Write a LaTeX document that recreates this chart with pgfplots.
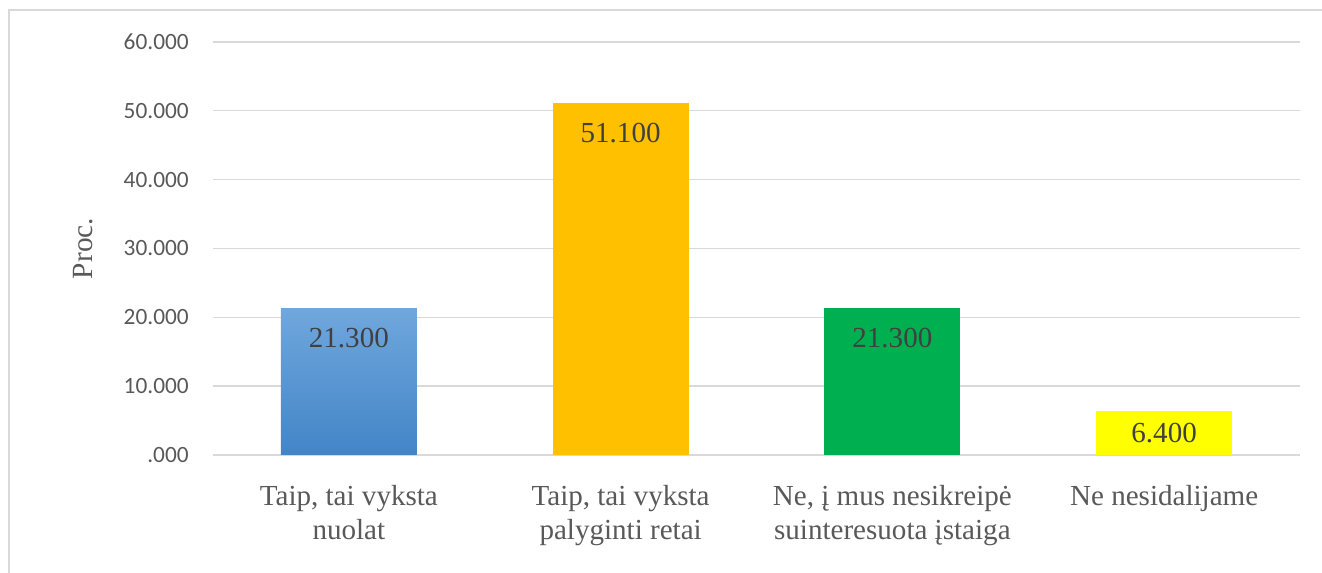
\documentclass[border=0pt]{standalone}
\usepackage{pgfplots}
\pgfplotsset{compat=1.18}
\usepackage{fontspec}
\setmainfont{Liberation Serif}
\newfontfamily\carlito{Carlito}
\definecolor{gridgray}{HTML}{D9D9D9}
\definecolor{ticktext}{HTML}{595959}
\definecolor{valtext}{HTML}{404040}
\definecolor{bluetop}{HTML}{70A7DD}
\definecolor{bluebot}{HTML}{4285C7}
\definecolor{orangebar}{HTML}{FFC000}
\definecolor{greenbar}{HTML}{00B050}
\definecolor{yellowbar}{HTML}{FFFF00}
\pgfplotsset{/pgf/number format/assume math mode=true}

\begin{document}
\begin{tikzpicture}
\useasboundingbox (0,0) rectangle (991.5pt,429.75pt);
% chart area frame (top and left edge visible)
\draw[gridgray, line width=0.9pt] (6.75pt,0) -- (6.75pt,422.25pt) -- (991.5pt,422.25pt);
\begin{axis}[
 at={(159.75pt,88.5pt)}, anchor=south west,
 scale only axis, width=815.25pt, height=309.75pt,
 xmin=-0.5, xmax=3.5, ymin=0, ymax=60,
 ybar, bar width=0.5,
 axis line style={draw=none},
 tick style={draw=none},
 ymajorgrids, grid style={gridgray, line width=1pt},
 ytick={0,10,20,30,40,50,60},
 yticklabels={.000,10.000,20.000,30.000,40.000,50.000,60.000},
 yticklabel style={font=\carlito\fontsize{17.5}{20}\selectfont, text=ticktext,
   anchor=east, inner sep=0pt, xshift=-18pt},
 xtick={0,1,2,3},
 xticklabels={{Taip, tai vyksta\\nuolat},{Taip, tai vyksta\\palyginti retai},
   {Ne, į mus nesikreipė\\suinteresuota įstaiga},{Ne nesidalijame}},
 xticklabel style={font=\fontsize{21.8}{25.5}\selectfont, text=ticktext,
   align=center, anchor=north, inner sep=0pt, yshift=-18pt},
 ylabel={Proc.},
 every axis y label/.style={at={(rel axis cs:0,0.5)}, rotate=90, anchor=center,
   yshift=97.5pt, font=\fontsize{22}{24}\selectfont, text=ticktext},
 nodes near coords={\pgfmathprintnumber[fixed,fixed zerofill,precision=3]{\pgfplotspointmeta}},
]
\addplot[bar shift=0pt, draw=none, top color=bluetop, bottom color=bluebot,
  nodes near coords style={anchor=north, inner sep=0pt, yshift=-15pt,
  font=\fontsize{21.8}{24}\selectfont, text=valtext}]
  coordinates {(0,21.3)};
\addplot[bar shift=0pt, draw=none, fill=orangebar,
  nodes near coords style={anchor=north, inner sep=0pt, yshift=-15pt,
  font=\fontsize{21.8}{24}\selectfont, text=valtext}]
  coordinates {(1,51.1)};
\addplot[bar shift=0pt, draw=none, fill=greenbar,
  nodes near coords style={anchor=north, inner sep=0pt, yshift=-15pt,
  font=\fontsize{21.8}{24}\selectfont, text=valtext}]
  coordinates {(2,21.3)};
\addplot[bar shift=0pt, draw=none, fill=yellowbar,
  nodes near coords style={anchor=north, inner sep=0pt, yshift=-9pt,
  font=\fontsize{21.8}{24}\selectfont, text=valtext}]
  coordinates {(3,6.4)};
\end{axis}
\end{tikzpicture}
\end{document}
